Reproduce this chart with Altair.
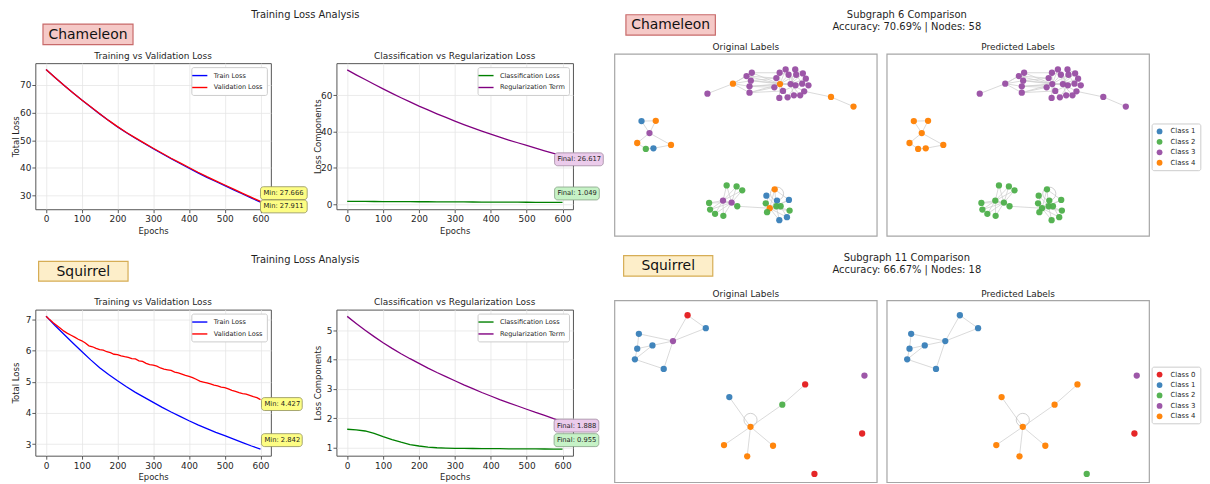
import altair as alt
import pandas as pd

FONT = "DejaVu Sans"
INK = "#1f1f1f"

# ---------------- loss curves ----------------
EPOCHS = [0, 25, 50, 75, 100, 125, 150, 175, 200, 225, 250, 275, 300,
          325, 350, 375, 400, 425, 450, 475, 500, 525, 550, 575, 600]
EPOCHS_FINE = list(range(0, 601, 10))

CH_TRAIN = [75.5, 72.6, 69.8, 67.1, 64.5, 62.0, 59.5, 57.1, 54.8, 52.7, 50.7, 48.8, 46.9,
            45.1, 43.3, 41.6, 39.9, 38.2, 36.6, 35.1, 33.6, 32.1, 30.6, 29.1, 27.666]
CH_VAL = [75.5, 72.6, 69.8, 67.1, 64.5, 62.05, 59.55, 57.15, 54.9, 52.8, 50.85, 48.95, 47.1,
          45.3, 43.5, 41.8, 40.15, 38.45, 36.85, 35.35, 33.85, 32.35, 30.85, 29.35, 27.911]
CH_CLS = [1.62, 1.60, 1.57, 1.55, 1.52, 1.50, 1.47, 1.45, 1.42, 1.40, 1.37, 1.35, 1.32,
          1.30, 1.28, 1.25, 1.23, 1.21, 1.18, 1.16, 1.14, 1.12, 1.09, 1.07, 1.049]
CH_REG = [73.8, 71.1, 68.5, 65.9, 63.4, 60.9, 58.5, 56.2, 53.9, 51.8, 49.7, 47.7, 45.7,
          43.8, 42.0, 40.2, 38.5, 36.9, 35.3, 33.8, 32.3, 30.8, 29.4, 28.0, 26.617]

SQ_TRAIN = [7.10, 6.80, 6.52, 6.24, 5.97, 5.70, 5.45, 5.23, 5.03, 4.84, 4.66, 4.50, 4.34,
            4.18, 4.03, 3.89, 3.75, 3.62, 3.50, 3.38, 3.27, 3.16, 3.05, 2.94, 2.842]
SQ_VAL = [7.10, 6.99, 6.89, 6.80, 6.71, 6.62, 6.55, 6.49, 6.43, 6.36, 6.31, 6.24, 6.15,
          6.12, 6.07, 6.03, 6.01, 5.96, 5.93, 5.88, 5.87, 5.83, 5.80, 5.78, 5.74, 5.73,
          5.67, 5.65, 5.59, 5.55, 5.53, 5.50, 5.44, 5.40, 5.38, 5.36, 5.31, 5.28, 5.24,
          5.20, 5.17, 5.13, 5.08, 5.02, 4.99, 4.96, 4.93, 4.89, 4.87, 4.83, 4.81, 4.77,
          4.72, 4.69, 4.65, 4.62, 4.60, 4.56, 4.52, 4.49, 4.427]
SQ_CLS = [1.63, 1.61, 1.57, 1.49, 1.38, 1.28, 1.19, 1.11, 1.06, 1.02, 1.00, 0.99, 0.98,
          0.977, 0.974, 0.971, 0.969, 0.967, 0.965, 0.963, 0.961, 0.959, 0.957, 0.956, 0.955]
SQ_REG = [5.47, 5.23, 5.00, 4.78, 4.57, 4.38, 4.20, 4.03, 3.87, 3.71, 3.56, 3.42, 3.28,
          3.14, 3.01, 2.88, 2.76, 2.64, 2.53, 2.42, 2.31, 2.20, 2.10, 1.99, 1.888]

# annotated values
CH_TRAIN_MIN, CH_VAL_MIN = 27.666, 27.911
CH_CLS_FINAL, CH_REG_FINAL = 1.049, 26.617
SQ_TRAIN_MIN, SQ_VAL_MIN = 2.842, 4.427
SQ_CLS_FINAL, SQ_REG_FINAL = 0.955, 1.888
LAST_EPOCH = 600

# ---------------- subgraphs (layout coordinates) ----------------
CH_X = [332, 409, 450, 466, 463, 459, 459,
        550, 568, 597, 620, 577, 600, 540, 629, 551, 583, 598, 618, 637, 534, 560, 624,
        549, 574, 593, 612,
        705, 773,
        133, 176, 157, 120, 146, 169, 222,
        390, 420, 437, 337, 379, 405, 422, 340, 355, 380,
        535, 510, 542, 578, 508, 540, 553, 520, 512, 580, 549, 572]
CH_Y = [275, 245, 222, 212, 236, 253, 272,
        212, 202, 202, 214, 218, 218, 228, 230, 246, 246, 250, 245, 250, 256, 267, 268,
        288, 286, 280, 280,
        285, 314,
        358, 357, 394, 424, 442, 440, 430,
        552, 555, 567, 605, 598, 604, 615, 625, 638, 644,
        564, 583, 598, 596, 606, 615, 615, 621, 633, 628, 657, 648]
CH_TRUE = [3, 4, 3, 3, 3, 3, 3,
           3, 3, 3, 3, 3, 3, 3, 3, 4, 3, 3, 3, 3, 3, 3, 3, 3, 3, 3, 3,
           4, 4,
           1, 4, 3, 4, 2, 1, 4,
           2, 2, 2, 2, 3, 3, 2, 2, 2, 2,
           4, 1, 1, 1, 2, 2, 2, 4, 2, 2, 1, 1]
CH_PRED = [3, 3, 3, 3, 3, 3, 3,
           3, 3, 3, 3, 3, 3, 3, 3, 3, 3, 3, 3, 3, 3, 3, 3, 3, 3, 3, 3,
           3, 3,
           4, 4, 4, 4, 4, 4, 4,
           2, 2, 2, 2, 2, 2, 2, 2, 2, 2,
           2, 2, 2, 2, 2, 2, 2, 2, 2, 2, 2, 2]
CH_EDGES = [(0, 1), (1, 2), (1, 3), (1, 4), (1, 5), (1, 6),
            (2, 15), (3, 15), (4, 15), (5, 15), (6, 15), (2, 13), (3, 7), (4, 13), (5, 20),
            (6, 20), (4, 16), (5, 16), (6, 21),
            (15, 7), (15, 8), (15, 11), (15, 12), (15, 16), (15, 17), (15, 21), (15, 23),
            (15, 24), (15, 20), (15, 13),
            (16, 9), (16, 10), (16, 14), (16, 18), (16, 19), (16, 22), (16, 25), (16, 26),
            (16, 12), (16, 11), (17, 8), (17, 21), (17, 24), (12, 18), (11, 7), (9, 10),
            (18, 14), (22, 27), (27, 28),
            (29, 30), (29, 31), (30, 31), (31, 32), (31, 35), (32, 33), (33, 34), (34, 35),
            (40, 36), (40, 37), (40, 38), (40, 39), (40, 42), (40, 43), (40, 44), (40, 45),
            (41, 36), (41, 37), (41, 38), (41, 39), (41, 42), (41, 43), (41, 44), (41, 45),
            (40, 41), (42, 53),
            (53, 46), (53, 47), (53, 48), (53, 49), (53, 50), (53, 51), (53, 52), (53, 54),
            (53, 55), (53, 56), (53, 57), (51, 46), (51, 47), (51, 49), (51, 55), (51, 56),
            (52, 57), (48, 51), (46, 49)]
CH_LOOPS = [48]
CH_CLASSES = ["Class 1", "Class 2", "Class 3", "Class 4"]

SQ_X = [272, 327, 125, 228, 166, 120, 113, 200, 806, 627, 398, 558, 462, 799, 382, 530, 452, 655]
SQ_Y = [225, 264, 281, 303, 316, 326, 358, 387, 407, 434, 472, 495, 562, 582, 617, 619, 651, 704]
SQ_TRUE = [0, 1, 1, 3, 1, 1, 1, 1, 3, 0, 1, 2, 4, 0, 4, 4, 4, 0]
SQ_PRED = [1, 1, 1, 1, 1, 1, 1, 1, 3, 4, 4, 4, 4, 0, 4, 4, 4, 2]
SQ_EDGES = [(0, 3), (0, 1), (1, 3), (2, 3), (2, 5), (3, 4), (4, 5), (5, 6), (4, 6), (6, 7),
            (3, 7), (10, 12), (12, 11), (11, 9), (12, 14), (12, 15), (12, 16)]
SQ_LOOPS = [12]
SQ_CLASSES = ["Class 0", "Class 1", "Class 2", "Class 3", "Class 4"]

CLASS_COLOR = {"Class 0": "#e41a1c", "Class 1": "#377eb8", "Class 2": "#4daf4a",
               "Class 3": "#984ea3", "Class 4": "#ff7f00"}

# ---------------- geometry / style ----------------
P1_W, P2_W, NET_W = 237, 238, 264
LINE_H, NET_H = 147, 174
YELLOW = ("#fdfd84", "#8f8f5a")
PURPLE = ("#ebcbeb", "#a08aa0")
GREEN = ("#c6f2c6", "#86a086")


def text_layer(text, x, y, size, align="center", color=INK):
    d = pd.DataFrame({"t": [text]})
    return alt.Chart(d).mark_text(fontSize=size, font=FONT, color=color, align=align,
                                  baseline="middle").encode(
        x=alt.value(x), y=alt.value(y), text="t:N")


def label_box(text, x0, x1, y0, y1, fill, stroke):
    d = pd.DataFrame({"t": [text]})
    rect = alt.Chart(d).mark_rect(fill=fill, stroke=stroke, strokeWidth=1.2).encode(
        x=alt.value(x0), x2=alt.value(x1), y=alt.value(y0), y2=alt.value(y1))
    return [rect, text_layer(text, (x0 + x1) / 2, (y0 + y1) / 2 + 0.5, 14, color="#111111")]


def line_panel(series, ydom, yticks, ytitle, title, annots, width, deco):
    frames, names, colors = [], [], []
    for name, color, xs, ys in series:
        names.append(name)
        colors.append(color)
        frames.append(pd.DataFrame({"epoch": xs, "value": ys, "series": name}))
    df = pd.concat(frames, ignore_index=True)
    X = alt.X("epoch:Q", title="Epochs",
              scale=alt.Scale(domain=[-30, 629], nice=False, zero=False),
              axis=alt.Axis(values=[0, 100, 200, 300, 400, 500, 600], format="d",
                            labelFlush=False, labelPadding=2, titlePadding=2.5))
    Y = alt.Y("value:Q", title=ytitle,
              scale=alt.Scale(domain=ydom, nice=False, zero=False),
              axis=alt.Axis(values=yticks, format="d", labelPadding=1, titleX=-19.5,
                            titleBaseline="middle"))
    lines = alt.Chart(df).mark_line(strokeWidth=1.3).encode(
        x=X, y=Y,
        color=alt.Color("series:N", scale=alt.Scale(domain=names, range=colors),
                        legend=alt.Legend(title=None, orient="top-right", offset=4,
                                          symbolType="M-1.9,0H1.9", symbolSize=64,
                                          symbolStrokeWidth=1.4, labelFontSize=6.6,
                                          labelFont=FONT, labelColor=INK, padding=3.5,
                                          rowPadding=3, labelOffset=9,
                                          strokeColor="#cccccc", fillColor="white",
                                          cornerRadius=2)))
    layers = [lines]
    for ep, val, label, (fill, stroke), dx, dy, w in annots:
        d = pd.DataFrame({"epoch": [ep], "value": [val], "label": [label]})
        layers.append(alt.Chart(d).mark_rect(
            fill=fill, stroke=stroke, strokeWidth=0.8, cornerRadius=3,
            xOffset=dx, x2Offset=dx + w, yOffset=dy - 6.5, y2Offset=dy + 6.5).encode(
            x=X, x2=alt.X2("epoch"), y=Y, y2=alt.Y2("value")))
        layers.append(alt.Chart(d).mark_text(
            fontSize=6.8, font=FONT, color=INK, align="left", baseline="middle",
            dx=dx + 3, dy=dy).encode(x=X, y=Y, text="label:N"))
    layers.append(text_layer(title, width / 2, -7.5, 9))
    layers += deco
    return alt.layer(*layers).properties(
        width=width, height=LINE_H,
        view=alt.ViewBackground(stroke="#555555", strokeWidth=1))


def net_panel(xs, ys, classes, edges, loops, classes_domain, ydom, title, legend, deco):
    nodes = pd.DataFrame({"x": xs, "y": ys, "cls": [f"Class {c}" for c in classes]})
    e = pd.DataFrame({"x": [xs[a] for a, b in edges], "y": [ys[a] for a, b in edges],
                      "x2": [xs[b] for a, b in edges], "y2": [ys[b] for a, b in edges]})
    lp = pd.DataFrame({"x": [xs[i] for i in loops], "y": [ys[i] for i in loops]})
    X = alt.X("x:Q", scale=alt.Scale(domain=[52, 844], nice=False, zero=False), axis=None)
    Y = alt.Y("y:Q", scale=alt.Scale(domain=ydom, nice=False, zero=False, reverse=True),
              axis=None)
    frame = alt.Chart(pd.DataFrame({"f": [0]})).mark_rect(
        fillOpacity=0, stroke="#a6a6a6", strokeWidth=1.2).encode(
        x=alt.value(0), x2=alt.value(NET_W), y=alt.value(-9), y2=alt.value(NET_H))
    rules = alt.Chart(e).mark_rule(color="#d0d0d0", strokeWidth=0.8).encode(
        x=X, y=Y, x2="x2:Q", y2="y2:Q")
    rings = alt.Chart(lp).mark_point(shape="circle", filled=False, size=175,
                                     color="#c4c4c4", strokeWidth=0.8, yOffset=-7,
                                     opacity=1).encode(x=X, y=Y)
    dots = alt.Chart(nodes).mark_circle(size=40, opacity=0.95).encode(
        x=X, y=Y,
        color=alt.Color("cls:N",
                        scale=alt.Scale(domain=classes_domain,
                                        range=[CLASS_COLOR[c] for c in classes_domain]),
                        legend=legend))
    layers = [frame, rules, rings, dots, text_layer(title, NET_W / 2, -16, 9)] + deco
    return alt.layer(*layers).properties(width=NET_W, height=NET_H)


def net_legend(lx, ly):
    return alt.Legend(title=None, orient="none", legendX=lx, legendY=ly,
                      symbolType="circle", symbolSize=34, symbolOpacity=0.95,
                      labelFontSize=7, labelFont=FONT, labelColor=INK, padding=4,
                      rowPadding=3.5, labelOffset=7, strokeColor="#cccccc",
                      fillColor="white", cornerRadius=2)


def spacer(w):
    return alt.Chart(pd.DataFrame({"s": [0]})).mark_point(opacity=0).encode(
        x=alt.value(0), y=alt.value(0)).properties(width=w, height=1)


# ---------------- row 1 : Chameleon ----------------
ch_p1 = line_panel(
    [("Train Loss", "#0000ff", EPOCHS, CH_TRAIN), ("Validation Loss", "#ff0000", EPOCHS, CH_VAL)],
    [25.1, 77.8], [30, 40, 50, 60, 70], "Total Loss", "Training vs Validation Loss",
    [(LAST_EPOCH, CH_TRAIN_MIN, f"Min: {CH_TRAIN_MIN:.3f}", YELLOW, 0, -9, 47),
     (LAST_EPOCH, CH_VAL_MIN, f"Min: {CH_VAL_MIN:.3f}", YELLOW, 0, 5, 47)],
    P1_W,
    label_box("Chameleon", 7.7, 98.3, -39.3, -18.7, "#f5c9c7", "#c86a6a")
    + [text_layer("Training Loss Analysis", 271.7, -48.5, 10)])
ch_p2 = line_panel(
    [("Classification Loss", "#008000", EPOCHS, CH_CLS),
     ("Regularization Term", "#800080", EPOCHS, CH_REG)],
    [-2.7, 77.5], [0, 20, 40, 60], "Loss Components", "Classification vs Regularization Loss",
    [(LAST_EPOCH, CH_REG_FINAL, f"Final: {CH_REG_FINAL:.3f}", PURPLE, -8, 3.5, 49),
     (LAST_EPOCH, CH_CLS_FINAL, f"Final: {CH_CLS_FINAL:.3f}", GREEN, -8, -9, 45)],
    P2_W, [])
ch_n1 = net_panel(CH_X, CH_Y, CH_TRUE, CH_EDGES, CH_LOOPS, CH_CLASSES, [183, 705],
                  "Original Labels", None,
                  label_box("Chameleon", 11.3, 101.3, -48.7, -28.3, "#f5c9c7", "#c86a6a")
                  + [text_layer("Subgraph 6 Comparison", 294, -48.5, 10),
                     text_layer("Accuracy: 70.69% | Nodes: 58", 294, -36, 10)])
ch_n2 = net_panel(CH_X, CH_Y, CH_PRED, CH_EDGES, CH_LOOPS, CH_CLASSES, [183, 705],
                  "Predicted Labels", net_legend(266.3, 60.7), [])

# ---------------- row 2 : Squirrel ----------------
sq_p1 = line_panel(
    [("Train Loss", "#0000ff", EPOCHS, SQ_TRAIN),
     ("Validation Loss", "#ff0000", EPOCHS_FINE, SQ_VAL)],
    [2.63, 7.31], [3, 4, 5, 6, 7], "Total Loss", "Training vs Validation Loss",
    [(LAST_EPOCH, SQ_VAL_MIN, f"Min: {SQ_VAL_MIN:.3f}", YELLOW, 1, 4.5, 41),
     (LAST_EPOCH, SQ_TRAIN_MIN, f"Min: {SQ_TRAIN_MIN:.3f}", YELLOW, 1, -9, 41)],
    P1_W,
    label_box("Squirrel", 3.3, 93.3, -48.6, -28.6, "#fdeec9", "#d6ad55")
    + [text_layer("Training Loss Analysis", 271.7, -50.3, 10)])
sq_p2 = line_panel(
    [("Classification Loss", "#008000", EPOCHS, SQ_CLS),
     ("Regularization Term", "#800080", EPOCHS, SQ_REG)],
    [0.73, 5.70], [1, 2, 3, 4, 5], "Loss Components", "Classification vs Regularization Loss",
    [(LAST_EPOCH, SQ_REG_FINAL, f"Final: {SQ_REG_FINAL:.3f}", PURPLE, -8.5, 4, 45),
     (LAST_EPOCH, SQ_CLS_FINAL, f"Final: {SQ_CLS_FINAL:.3f}", GREEN, -8.5, -9, 45)],
    P2_W, [])
sq_n1 = net_panel(SQ_X, SQ_Y, SQ_TRUE, SQ_EDGES, SQ_LOOPS, SQ_CLASSES, [208, 730],
                  "Original Labels", None,
                  label_box("Squirrel", 9, 98.7, -54.3, -33.6, "#fdeec9", "#d6ad55")
                  + [text_layer("Subgraph 11 Comparison", 294, -52, 10),
                     text_layer("Accuracy: 66.67% | Nodes: 18", 294, -40, 10)])
sq_n2 = net_panel(SQ_X, SQ_Y, SQ_PRED, SQ_EDGES, SQ_LOOPS, SQ_CLASSES, [208, 730],
                  "Predicted Labels", net_legend(266.3, 57.4), [])

cells = [ch_p1, spacer(66), ch_p2, spacer(42), ch_n1, spacer(10), ch_n2,
         sq_p1, spacer(66), sq_p2, spacer(42), sq_n1, spacer(10), sq_n2]

chart = alt.ConcatChart(concat=cells, columns=7, bounds="flush",
                        spacing={"row": 74, "column": 0}).resolve_scale(
    x="independent", y="independent", color="independent"
).properties(
    padding={"left": 3.5, "top": 0, "right": 0, "bottom": 0}
).configure(font=FONT).configure_view(stroke="transparent").configure_axis(
    labelFont=FONT, labelFontSize=9, labelColor=INK, titleFont=FONT, titleFontSize=8.5,
    titleFontWeight="normal", titleColor=INK, tickColor="#333333", tickSize=3.5,
    tickWidth=0.8, domain=False, grid=True, gridColor="#e6e6e6", gridWidth=0.8)

chart.save("out.html", embed_options={"renderer": "svg", "actions": False})
